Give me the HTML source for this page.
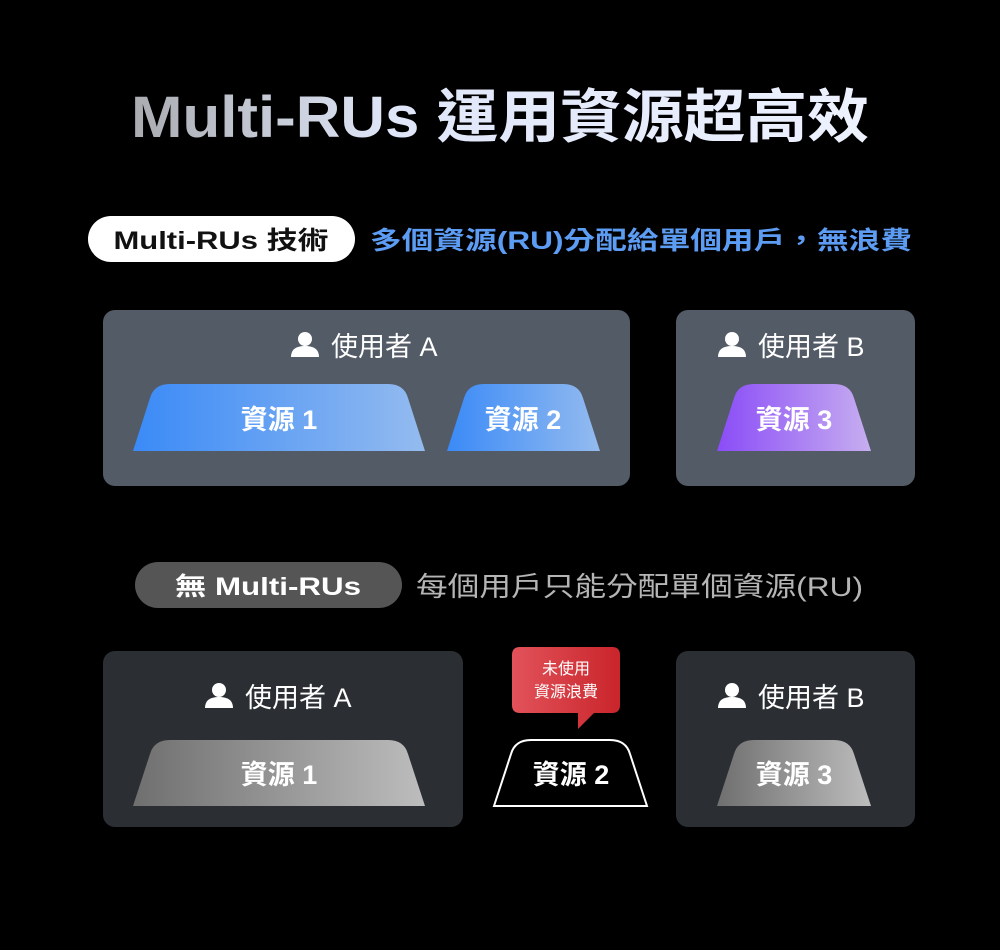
<!DOCTYPE html>
<html><head><meta charset="utf-8"><style>
html,body{margin:0;padding:0;background:#000;}
svg{display:block;}
text{font-family:"Liberation Sans","Noto Sans CJK TC",sans-serif;}
</style></head><body>
<svg width="1000" height="950" viewBox="0 0 1000 950" xmlns="http://www.w3.org/2000/svg">
<defs>
<linearGradient id="tg" x1="0" x2="1" y1="0" y2="0"><stop offset="0" stop-color="#a9abb0"/><stop offset="0.35" stop-color="#dfe6f8"/><stop offset="1" stop-color="#eef2ff"/></linearGradient>
<linearGradient id="bl" x1="0" x2="1"><stop offset="0" stop-color="#3a8af7"/><stop offset="1" stop-color="#94bbef"/></linearGradient>
<linearGradient id="pu" x1="0" x2="1"><stop offset="0" stop-color="#8a4cf7"/><stop offset="1" stop-color="#c7aef0"/></linearGradient>
<linearGradient id="gr" x1="0" x2="1"><stop offset="0" stop-color="#6f6f6f"/><stop offset="1" stop-color="#bdbdbd"/></linearGradient>
<linearGradient id="rd" x1="0" x2="1"><stop offset="0" stop-color="#e2525a"/><stop offset="1" stop-color="#c9252b"/></linearGradient>
<g id="user"><circle cx="0" cy="-8" r="7" fill="#fff"/><path d="M-14 10 Q-14 -1 0 -1 Q14 -1 14 10 Z" fill="#fff"/></g>
</defs>

<text x="500" y="137" text-anchor="middle" font-size="58" font-weight="bold" fill="url(#tg)" textLength="738" lengthAdjust="spacingAndGlyphs">Multi-RUs 運用資源超高效</text>

<rect x="88" y="216" width="267" height="46" rx="23" fill="#fff"/>
<text x="221" y="249" text-anchor="middle" font-size="25" font-weight="bold" fill="#111" textLength="215" lengthAdjust="spacingAndGlyphs">Multi-RUs 技術</text>
<text x="370" y="249" font-size="25" font-weight="bold" fill="#5d9cf3" textLength="542" lengthAdjust="spacingAndGlyphs">多個資源(RU)分配給單個用戶，無浪費</text>

<rect x="103" y="310" width="527" height="176" rx="12" fill="#535b66"/>
<rect x="676" y="310" width="239" height="176" rx="12" fill="#535b66"/>
<use href="#user" x="305" y="347"/>
<text x="331" y="356" font-size="27" fill="#fff">使用者 A</text>
<use href="#user" x="732" y="347"/>
<text x="758" y="356" font-size="27" fill="#fff">使用者 B</text>

<path d="M133 451 L150 398 Q154 384 170 384 L388 384 Q404 384 408 398 L425 451 Z" fill="url(#bl)"/>
<path d="M447 451 L464 398 Q468 384 484 384 L563 384 Q579 384 583 398 L600 451 Z" fill="url(#bl)"/>
<path d="M717 451 L734 398 Q738 384 754 384 L834 384 Q850 384 854 398 L871 451 Z" fill="url(#pu)"/>
<text x="279" y="429" text-anchor="middle" font-size="27" font-weight="bold" fill="#fff">資源 1</text>
<text x="523" y="429" text-anchor="middle" font-size="27" font-weight="bold" fill="#fff">資源 2</text>
<text x="794" y="429" text-anchor="middle" font-size="27" font-weight="bold" fill="#fff">資源 3</text>

<rect x="135" y="562" width="267" height="46" rx="23" fill="#555"/>
<text x="268" y="595" text-anchor="middle" font-size="25" font-weight="bold" fill="#fff" textLength="186" lengthAdjust="spacingAndGlyphs">無 Multi-RUs</text>
<text x="416" y="596" font-size="27" fill="#b5b5b5" textLength="447" lengthAdjust="spacingAndGlyphs">每個用戶只能分配單個資源(RU)</text>

<rect x="103" y="651" width="360" height="176" rx="12" fill="#2b2f34"/>
<rect x="676" y="651" width="239" height="176" rx="12" fill="#2b2f34"/>
<use href="#user" x="219" y="698"/>
<text x="245" y="707" font-size="27" fill="#fff">使用者 A</text>
<use href="#user" x="732" y="698"/>
<text x="758" y="707" font-size="27" fill="#fff">使用者 B</text>

<path d="M133 806 L150 754 Q154 740 170 740 L388 740 Q404 740 408 754 L425 806 Z" fill="url(#gr)"/>
<path d="M494 806 L511 754 Q515 740 531 740 L610 740 Q626 740 630 754 L647 806 Z" fill="none" stroke="#fff" stroke-width="2"/>
<path d="M717 806 L734 754 Q738 740 754 740 L834 740 Q850 740 854 754 L871 806 Z" fill="url(#gr)"/>
<text x="279" y="784" text-anchor="middle" font-size="27" font-weight="bold" fill="#fff">資源 1</text>
<text x="571" y="784" text-anchor="middle" font-size="27" font-weight="bold" fill="#fff">資源 2</text>
<text x="794" y="784" text-anchor="middle" font-size="27" font-weight="bold" fill="#fff">資源 3</text>

<path d="M520 647 L612 647 Q620 647 620 655 L620 705 Q620 713 612 713 L594 713 L578 729 L578 713 L520 713 Q512 713 512 705 L512 655 Q512 647 520 647 Z" fill="url(#rd)"/>
<text x="566" y="674" text-anchor="middle" font-size="16" fill="#fff">未使用</text>
<text x="566" y="697" text-anchor="middle" font-size="16" fill="#fff">資源浪費</text>
</svg>
</body></html>
